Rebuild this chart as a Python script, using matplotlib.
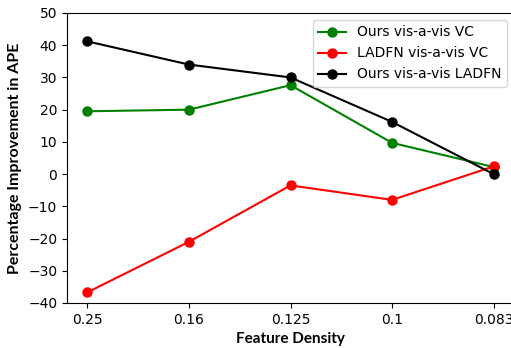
import matplotlib.pyplot as plt

# Feature density levels and percentage improvement in APE
densities = ["0.25", "0.16", "0.125", "0.1", "0.083"]
ours_vs_vc = [19.5, 20.0, 27.6, 9.7, 2.2]
ladfn_vs_vc = [-36.7, -21.0, -3.5, -8.0, 2.4]
ours_vs_ladfn = [41.2, 34.0, 30.0, 16.2, 0.0]

fig = plt.figure(figsize=(5.11, 3.48), dpi=100)
ax = fig.add_axes([67 / 511, 45 / 348, 447 / 511, 290 / 348])

x = range(len(densities))
ax.plot(x, ours_vs_vc, color="green", marker="o", markersize=6.5, linewidth=1.5,
        label="Ours vis-a-vis VC")
ax.plot(x, ladfn_vs_vc, color="red", marker="o", markersize=6.5, linewidth=1.5,
        label="LADFN vis-a-vis VC")
ax.plot(x, ours_vs_ladfn, color="black", marker="o", markersize=6.5, linewidth=1.5,
        label="Ours vis-a-vis LADFN")

ax.set_xticks(list(x))
ax.set_xticklabels(densities)
ax.set_xlim(-0.2, 4.2)
ax.set_ylim(-40, 50)
ax.tick_params(labelsize=10)

ax.set_xlabel("Feature Density", fontfamily="Lato", fontweight="bold", fontsize=11)
ax.set_ylabel("Percentage Improvement in APE", fontfamily="Lato", fontweight="bold",
              fontsize=11.5)
ax.legend(loc="upper right", fontsize=10)

fig.savefig("out.png", dpi=100)
